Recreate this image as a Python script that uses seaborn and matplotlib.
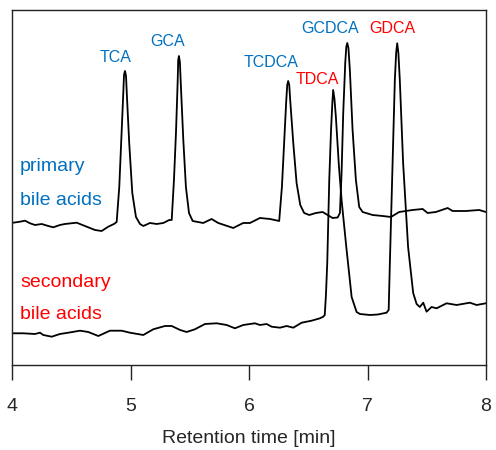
import matplotlib
matplotlib.use("Agg")
import matplotlib.pyplot as plt
import seaborn as sns
import pandas as pd

## Chromatogram traces (time in min, signal in arbitrary units)
primary_time = [4.007, 4.063, 4.106, 4.148, 4.190, 4.247, 4.302, 4.345, 4.401, 4.443,
                4.542, 4.612, 4.697, 4.753, 4.809, 4.857,
                4.880, 4.902, 4.919, 4.936, 4.942, 4.950, 4.959, 4.967, 4.986, 5.012, 5.043, 5.077,
                5.105, 5.161, 5.218, 5.274, 5.324,
                5.345, 5.364, 5.381, 5.395, 5.400, 5.406, 5.414, 5.423, 5.443, 5.465, 5.491, 5.522,
                5.611, 5.682, 5.738, 5.865, 5.949, 6.006, 6.090, 6.175,
                6.253, 6.276, 6.296, 6.313, 6.321, 6.329, 6.338, 6.346, 6.372, 6.400, 6.431, 6.464, 6.507,
                6.563, 6.620, 6.704, 6.747,
                6.766, 6.780, 6.794, 6.811, 6.820, 6.828, 6.838, 6.850, 6.873, 6.901, 6.929, 6.958,
                7.042, 7.127, 7.197, 7.267, 7.380, 7.465, 7.507, 7.577, 7.676, 7.718, 7.830, 7.943, 7.999]
primary_signal = [142.3, 143.3, 144.3, 141.7, 140.0, 141.0, 139.0, 137.7, 140.0, 141.0,
                  142.3, 139.0, 135.0, 134.0, 138.3, 141.0,
                  143.0, 178.0, 225.0, 272.0, 290.0, 294.0, 289.0, 268.0, 222.0, 172.0, 148.0, 141.0,
                  139.0, 142.0, 141.0, 142.0, 145.0,
                  145.0, 185.0, 232.0, 282.0, 305.0, 309.0, 303.0, 278.0, 225.0, 178.0, 152.0, 144.0,
                  142.0, 146.0, 142.0, 137.0, 142.0, 142.0, 147.0, 146.0,
                  144.0, 178.0, 225.0, 265.0, 280.0, 284.0, 280.0, 265.0, 222.0, 182.0, 160.0, 152.0, 150.0,
                  152.0, 153.0, 147.0, 147.5,
                  152.0, 192.0, 252.0, 302.0, 318.0, 322.0, 317.0, 295.0, 235.0, 185.0, 158.0, 153.0,
                  150.0, 149.0, 148.0, 153.0, 155.0, 156.0, 152.0, 153.0, 157.0, 154.0, 154.0, 155.0, 153.0]

secondary_time = [4.007, 4.091, 4.190, 4.232, 4.260, 4.331, 4.401, 4.471, 4.570, 4.640,
                  4.725, 4.823, 4.922, 4.992, 5.105, 5.189, 5.288, 5.345, 5.416, 5.471,
                  5.541, 5.626, 5.725, 5.809, 5.879, 5.949, 6.048, 6.090, 6.147, 6.189,
                  6.259, 6.316, 6.372, 6.443, 6.527, 6.597, 6.625,
                  6.638, 6.648, 6.659, 6.676, 6.691, 6.702, 6.709, 6.720, 6.732, 6.757, 6.780,
                  6.820, 6.865, 6.907, 6.935, 7.020, 7.087, 7.160,
                  7.178, 7.188, 7.211, 7.230, 7.241, 7.250, 7.260, 7.272, 7.300, 7.342, 7.385,
                  7.414, 7.441, 7.470, 7.498, 7.540, 7.583, 7.667, 7.752, 7.864, 7.921, 7.999]
secondary_signal = [31.7, 31.7, 31.0, 32.3, 30.0, 28.3, 31.0, 32.3, 34.3, 33.0,
                    29.0, 34.3, 34.3, 32.3, 30.0, 35.7, 39.0, 39.0, 35.0, 33.0,
                    35.7, 41.0, 41.7, 40.0, 36.7, 40.0, 41.7, 40.0, 41.0, 38.3,
                    37.3, 39.0, 37.3, 42.3, 44.3, 46.7, 48.3,
                    50.0, 70.0, 102.0, 185.0, 235.0, 262.0, 275.0, 266.0, 248.0, 200.0, 165.0,
                    118.0, 68.0, 53.0, 51.0, 50.0, 50.5, 52.3,
                    55.0, 102.0, 202.0, 285.0, 312.0, 321.7, 312.0, 285.0, 202.0, 118.0, 72.0,
                    61.0, 58.0, 62.3, 53.3, 58.0, 56.7, 61.7, 60.0, 62.3, 60.0, 61.7]

## Peak labels
peak_names = ["TCA", "GCA", "TCDCA", "TDCA", "GCDCA", "GDCA"]
peak_label_time = [4.874, 5.313, 6.183, 6.572, 6.682, 7.206]
peak_label_signal = [307, 323, 302, 285, 336, 336]
peak_group = ["primary", "primary", "primary", "secondary", "primary", "secondary"]

blue = "#0070C0"
red = "#FF0000"
colors = {"primary": blue, "secondary": red}

sns.set_theme(style="white")
plt.rcParams['font.family'] = ['Liberation Sans', 'DejaVu Sans']

primary = pd.DataFrame({"time": primary_time, "signal": primary_signal})
secondary = pd.DataFrame({"time": secondary_time, "signal": secondary_signal})

fig = plt.figure(figsize=(4.96, 4.5), dpi=100)
ax = fig.add_axes([0.0252, 0.1889, 0.9546, 0.7889])

sns.lineplot(data=primary, x="time", y="signal", ax=ax, color="black",
             linewidth=1.3, estimator=None, sort=False)
sns.lineplot(data=secondary, x="time", y="signal", ax=ax, color="black",
             linewidth=1.3, estimator=None, sort=False)

for name, t, s, g in zip(peak_names, peak_label_time, peak_label_signal, peak_group):
    ax.text(t, s, name, color=colors[g], fontsize=11.5, ha="center", va="center")

ax.text(4.063, 198, "primary", color=blue, fontsize=14, ha="left", va="center")
ax.text(4.063, 164, "bile acids", color=blue, fontsize=14, ha="left", va="center")
ax.text(4.063, 82, "secondary", color=red, fontsize=14, ha="left", va="center")
ax.text(4.063, 50, "bile acids", color=red, fontsize=14, ha="left", va="center")

ax.set_xlim(4, 8)
ax.set_ylim(0, 355)
ax.set_xticks([4, 5, 6, 7, 8])
ax.set_yticks([])
ax.set_ylabel("")
ax.set_xlabel("Retention time [min]", fontsize=14, labelpad=11)
ax.tick_params(axis="x", direction="out", length=11, width=1.0, pad=12.5,
               labelsize=14, color="#222222", bottom=True)
for sp in ax.spines.values():
    sp.set_color("#222222")
    sp.set_linewidth(1.0)

fig.savefig("out.png", dpi=100)
